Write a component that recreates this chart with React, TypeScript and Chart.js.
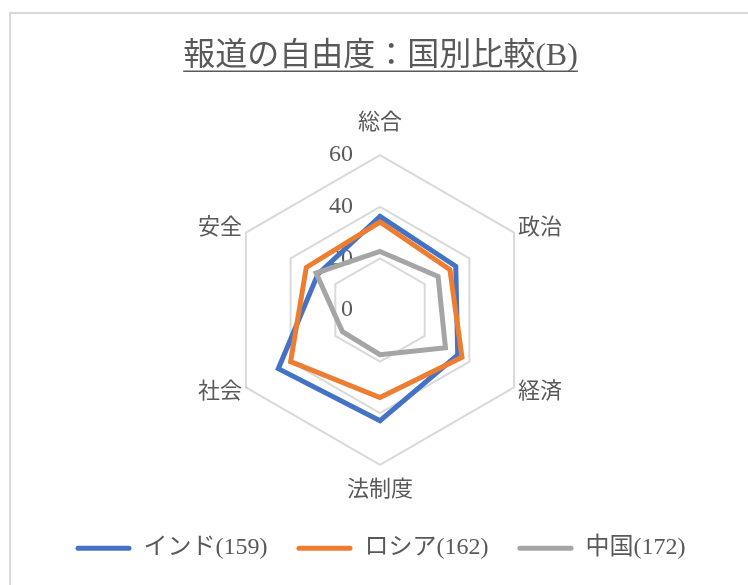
import React, { useEffect, useRef } from 'react';
import { Chart, registerables } from 'chart.js';

Chart.register(...registerables);

const titleText = '報道の自由度：国別比較(B)';
const categories = ['総合', '政治', '経済', '法制度', '社会', '安全'];
const seriesNames = ['インド(159)', 'ロシア(162)', '中国(172)'];
const india = [36.3, 33.9, 34.8, 42.9, 45.5, 27.8];
const russia = [34.1, 31.3, 36.7, 33.9, 40.0, 33.0];
const china = [22.7, 26.0, 29.3, 17.3, 16.8, 28.6];
const seriesColors = ['#4472C4', '#ED7D31', '#A5A5A5'];
const tickValues = [0, 20, 40, 60];

const FONT = '"Liberation Serif", "Noto Sans CJK JP", serif';
const TEXT_COLOR = '#595959';
const GRID_COLOR = '#d9d9d9';
const TITLE_SIZE = 32;
const TITLE_PAD_TOP = 37;

const underlinePlugin = {
  id: 'titleUnderline',
  afterDraw(chart: any) {
    const tb = chart.titleBlock;
    if (!tb) return;
    const ctx = chart.ctx;
    ctx.save();
    ctx.font = `normal ${TITLE_SIZE}px ${FONT}`;
    const w = ctx.measureText(titleText).width;
    const cx = (tb.left + tb.right) / 2;
    const cy = tb.top + TITLE_PAD_TOP + (TITLE_SIZE * 1.2) / 2;
    const y = cy + 15;
    ctx.strokeStyle = TEXT_COLOR;
    ctx.lineWidth = 1.5;
    ctx.beginPath();
    ctx.moveTo(cx - w / 2, y);
    ctx.lineTo(cx + w / 2, y);
    ctx.stroke();
    ctx.restore();
  },
};

const labelPadding = [15.8, -9.5, -9.5, 8.8, -9.5, -9.5];

export default function App() {
  const ref = useRef<HTMLCanvasElement | null>(null);

  useEffect(() => {
    if (!ref.current) return;
    const seriesData = [india, russia, china];
    const chart = new Chart(ref.current, {
      type: 'radar',
      data: {
        labels: categories,
        datasets: seriesNames.map((name, i) => ({
          label: name,
          data: seriesData[i],
          borderColor: seriesColors[i],
          backgroundColor: seriesColors[i],
          fill: false,
          borderWidth: 5,
          pointRadius: 0,
          pointHoverRadius: 0,
          tension: 0,
          order: 2 - i,
        })),
      },
      options: {
        animation: false,
        responsive: false,
        maintainAspectRatio: false,
        layout: { padding: { left: 13, right: 0, top: 0, bottom: 14.8 } },
        plugins: {
          title: {
            display: true,
            text: titleText,
            color: TEXT_COLOR,
            font: { family: FONT, size: TITLE_SIZE, weight: 'normal' },
            padding: { top: TITLE_PAD_TOP, bottom: 42.6 },
          },
          legend: {
            position: 'bottom',
            title: {
              display: true,
              text: ' ',
              font: { size: 1 },
              padding: { top: 0, bottom: 10 },
            },
            labels: {
              color: TEXT_COLOR,
              font: { family: FONT, size: 24 },
              boxWidth: 56,
              boxHeight: 5,
              padding: 29,
              generateLabels: (c: any) =>
                c.data.datasets.map((ds: any, i: number) => ({
                  text: ds.label,
                  fillStyle: seriesColors[i],
                  strokeStyle: seriesColors[i],
                  lineWidth: 0,
                  hidden: false,
                  datasetIndex: i,
                  borderRadius: 2.5,
                  fontColor: TEXT_COLOR,
                })),
            },
          },
          tooltip: { enabled: false },
        },
        scales: {
          r: {
            min: -0.0001,
            max: 60,
            afterBuildTicks: (scale: any) => {
              scale.ticks = tickValues.map((v) => ({ value: v }));
            },
            ticks: {
              display: true,
              showLabelBackdrop: false,
              color: TEXT_COLOR,
              font: { family: FONT, size: 24 },
              callback: (v: any) => {
                const s = String(Math.round(Number(v)));
                return s + ' '.repeat(9 + 2 * s.length);
              },
            },
            grid: {
              color: (ctx: any) => (ctx.index === 0 ? 'rgba(0,0,0,0)' : GRID_COLOR),
              lineWidth: 2,
            },
            angleLines: { display: false },
            pointLabels: {
              color: TEXT_COLOR,
              font: { family: FONT, size: 22, lineHeight: 0.2 },
              padding: (ctx: any) => labelPadding[ctx.index],
            },
          },
        },
      },
      plugins: [underlinePlugin],
    } as any);
    return () => chart.destroy();
  }, []);

  return (
    <div style={{ position: 'absolute', left: 0, top: 0, width: 748, height: 585, overflow: 'hidden', background: '#fff' }}>
      <div
        style={{
          position: 'absolute',
          left: 9,
          top: 12,
          width: 760,
          height: 620,
          borderLeft: `2px solid ${GRID_COLOR}`,
          borderTop: `2px solid ${GRID_COLOR}`,
        }}
      />
      <canvas ref={ref} width={748} height={585} style={{ position: 'absolute', left: 0, top: 0, width: 748, height: 585 }} />
    </div>
  );
}
